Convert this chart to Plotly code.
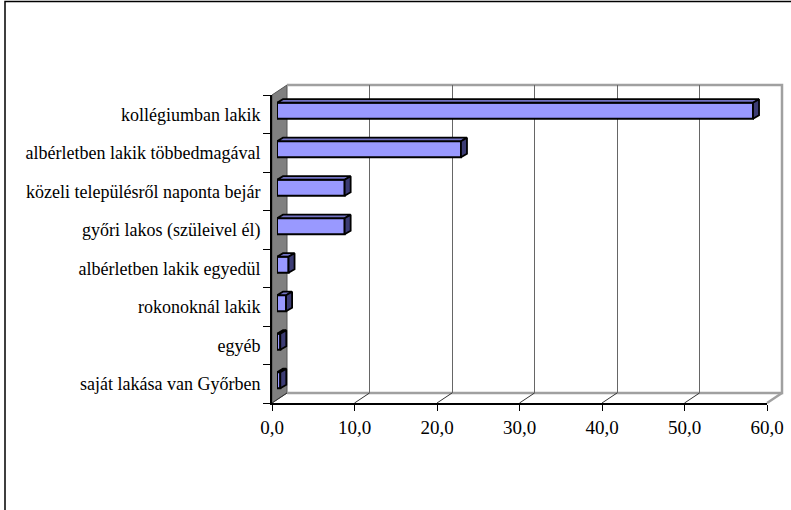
"""
Lakhatási forma - 3D hatású vízszintes oszlopdiagram.
"""
import plotly.graph_objects as go

# Adatok
kategoriak = [
    "kollégiumban lakik",
    "albérletben lakik többedmagával",
    "közeli településről naponta bejár",
    "győri lakos (szüleivel él)",
    "albérletben lakik egyedül",
    "rokonoknál lakik",
    "egyéb",
    "saját lakása van Győrben",
]
ertekek = [57.7, 22.3, 8.2, 8.2, 1.4, 1.1, 0.4, 0.4]
tick_ertekek = [0, 10, 20, 30, 40, 50, 60]

W, H = 791, 510


def fx(px):
    return px / W


def fy(py):
    return 1 - py / H


# Első sík (tengelyek), mélység-eltolás pixelben
X0, X1, Y0, Y1 = 272, 767, 95, 403
DX, DY = 15, 10
BX, BY = 5, 3.5      # oszlop elülső lapjának eltolása
BDX, BDY = 6, 3.5    # oszlop mélysége
XMAX = 60
n = len(kategoriak)
px_per_unit = (X1 - X0) / XMAX
px_per_cat = (Y1 - Y0) / n
half = 0.21

FONT = "Liberation Serif"
c_front, c_top, c_side = "#9999FF", "#7373C4", "#3C3C74"

fig = go.Figure()

# Üres nyomok, hogy a tengelyek megjelenjenek
fig.add_trace(go.Scatter(x=[None], y=[None], xaxis="x", yaxis="y",
                         hoverinfo="skip"))
fig.add_trace(go.Scatter(x=[None], y=[None], xaxis="x2", yaxis="y2",
                         hoverinfo="skip"))

# Oszlopok elülső lapja
fig.add_trace(
    go.Bar(
        x=ertekek,
        y=list(range(n)),
        orientation="h",
        width=2 * half,
        marker=dict(color=c_front, line=dict(color="black", width=2)),
        xaxis="x3",
        yaxis="y3",
        hoverinfo="skip",
    )
)

# Felső és oldalsó lapok
dxu = BDX / px_per_unit
dyu = BDY / px_per_cat
top_x, top_y, side_x, side_y = [], [], [], []
for i, v in enumerate(ertekek):
    yt, yb = i - half, i + half
    top_x += [0, v, v + dxu, dxu, 0, None]
    top_y += [yt, yt, yt - dyu, yt - dyu, yt, None]
    side_x += [v, v + dxu, v + dxu, v, v, None]
    side_y += [yt, yt - dyu, yb - dyu, yb, yt, None]

for xs, ys, col in [(top_x, top_y, c_top), (side_x, side_y, c_side)]:
    fig.add_trace(
        go.Scatter(
            x=xs,
            y=ys,
            mode="lines",
            fill="toself",
            fillcolor=col,
            line=dict(color="black", width=1.8),
            xaxis="x3",
            yaxis="y3",
            hoverinfo="skip",
            connectgaps=False,
        )
    )

shapes = []
# Keret (bal és felső él)
shapes.append(dict(type="path", xref="paper", yref="paper",
                   path=f"M{fx(5)},0 L{fx(5)},{fy(1.5)} L1,{fy(1.5)}",
                   line=dict(color="black", width=1.5), layer="below"))
# Oldalfal
shapes.append(dict(type="path", xref="paper", yref="paper",
                   path=f"M{fx(X0)},{fy(Y0)} L{fx(X0 + DX)},{fy(Y0 - DY)} "
                        f"L{fx(X0 + DX)},{fy(Y1 - DY)} L{fx(X0)},{fy(Y1)} Z",
                   fillcolor="#808080", line=dict(color="#555555", width=1),
                   layer="between"))
# Hátsó fal kerete (felső, jobb, alsó)
bx0, bx1 = X0 + DX, X1 + DX
by0, by1 = Y0 - DY, Y1 - DY
shapes.append(dict(type="path", xref="paper", yref="paper",
                   path=f"M{fx(bx0)},{fy(by0)} L{fx(bx1)},{fy(by0)} "
                        f"L{fx(bx1)},{fy(by1)} L{fx(bx0)},{fy(by1)}",
                   line=dict(color="#A0A0A0", width=2.5), layer="between"))
# Padló jobb éle
shapes.append(dict(type="line", xref="paper", yref="paper",
                   x0=fx(X1), y0=fy(Y1), x1=fx(bx1), y1=fy(by1),
                   line=dict(color="#A0A0A0", width=2.5), layer="between"))
# Padló átlós vonalai a tickeknél
for t in tick_ertekek[:-1]:
    xp = X0 + t * px_per_unit
    shapes.append(dict(type="line", xref="paper", yref="paper",
                       x0=fx(xp), y0=fy(Y1), x1=fx(xp + DX), y1=fy(by1),
                       line=dict(color="#333333", width=1), layer="between"))

fig.update_layout(
    width=W,
    height=H,
    autosize=False,
    margin=dict(l=0, r=0, t=0, b=0, autoexpand=False),
    paper_bgcolor="white",
    plot_bgcolor="rgba(0,0,0,0)",
    showlegend=False,
    separators=", ",
    font=dict(family=FONT, size=18, color="black"),
    shapes=shapes,
    # Első sík: tengelyek, feliratok
    xaxis=dict(
        domain=[fx(X0), fx(X1)], range=[0, XMAX], anchor="y",
        tickvals=tick_ertekek, tickformat=".1f",
        ticks="outside", ticklen=6, tickcolor="black", tickwidth=1,
        automargin=False,
        showline=True, linecolor="black", linewidth=2,
        showgrid=False, zeroline=False,
        tickfont=dict(family=FONT, size=19),
    ),
    yaxis=dict(
        domain=[fy(Y1), fy(Y0)], range=[n - 0.5, -0.5], anchor="x",
        tickvals=list(range(n)), ticktext=kategoriak,
        ticks="", ticklabelstandoff=6, automargin=False,
        minor=dict(tickvals=[i - 0.5 for i in range(n + 1)], ticks="outside",
                   ticklen=7, tickcolor="black", tickwidth=1, showgrid=False),
        showline=True, linecolor="black", linewidth=2,
        showgrid=False, zeroline=False,
        tickfont=dict(family=FONT, size=18),
    ),
    # Hátsó fal: rácsvonalak
    xaxis2=dict(
        domain=[fx(X0 + DX), fx(X1 + DX)], range=[0, XMAX], anchor="y2",
        tickvals=tick_ertekek, showticklabels=False, ticks="",
        showgrid=True, gridcolor="#666666", gridwidth=1.2,
        zeroline=False, showline=False, automargin=False,
    ),
    yaxis2=dict(
        domain=[fy(Y1 - DY), fy(Y0 - DY)], range=[0, 1], anchor="x2",
        showticklabels=False, showgrid=False, zeroline=False,
        automargin=False,
    ),
    # Oszlopok síkja
    xaxis3=dict(
        domain=[fx(X0 + BX), fx(X1 + BX)], range=[0, XMAX], anchor="y3",
        visible=False, automargin=False,
    ),
    yaxis3=dict(
        domain=[fy(Y1 - BY), fy(Y0 - BY)], range=[n - 0.5, -0.5], anchor="x3",
        visible=False, automargin=False,
    ),
)

fig.write_html(
    "out.html",
    config={"displayModeBar": False},
    post_script=(
        "document.documentElement.style.margin='0';"
        "document.body.style.margin='0';"
        "document.documentElement.style.overflow='hidden';"
        "document.body.style.overflow='hidden';"
    ),
)
